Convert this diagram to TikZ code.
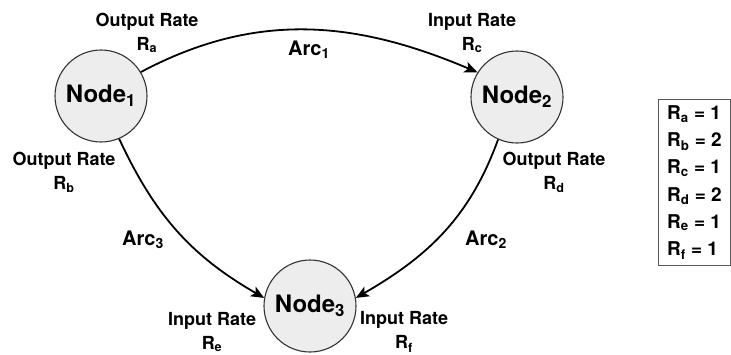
\documentclass[tikz,border=0pt]{standalone}
\usepackage{fontspec}
\setmainfont{TeX Gyre Heros}
\usepackage{xcolor}
\usepackage{tikz}
\usetikzlibrary{arrows.meta}

\begin{document}
\begin{tikzpicture}[
    x=1pt, y=1pt,
    place/.style={circle, draw=black!80, fill=black!7, line width=1.1pt, minimum size=92pt, inner sep=0pt, font=\bfseries\fontsize{24}{26}\selectfont},
    rate/.style={align=center, inner sep=0pt, font=\bfseries\fontsize{18}{24}\selectfont},
    arclabel/.style={inner sep=0pt, font=\bfseries\fontsize{20}{24}\selectfont},
    arc/.style={-{Stealth[length=13pt, width=11pt, inset=3pt]}, line width=1.8pt}
]
\useasboundingbox (0,0) rectangle (731,-354);

% Nodes
\node[place] (node1) at (101,-96) {Node\textsubscript{1}};
\node[place] (node2) at (517,-97) {Node\textsubscript{2}};
\node[place] (node3) at (310,-306) {Node\textsubscript{3}};

% Rates
\node[rate] (ra) at (147,-33) {Output Rate\\R\textsubscript{a}};
\node[rate] (rc) at (472,-33) {Input Rate\\R\textsubscript{c}};
\node[rate] (rb) at (64,-172) {Output Rate\\R\textsubscript{b}};
\node[rate] (rd) at (554,-172) {Output Rate\\R\textsubscript{d}};
\node[rate] (re) at (212,-332) {Input Rate\\R\textsubscript{e}};
\node[rate] (rf) at (404,-332) {Input Rate\\R\textsubscript{f}};

% Arcs
\draw[arc] (node1.31) to[out=28, in=157] (node2.148);
\draw[arc] (node2.-114) to[out=-110, in=30] (node3.10);
\draw[arc] (node1.-67) to[out=-65, in=150] (node3.170);

\node[arclabel] (arc1) at (309,-50) {Arc\textsubscript{1}};
\node[arclabel] (arc2) at (486,-240) {Arc\textsubscript{2}};
\node[arclabel] (arc3) at (143,-240) {Arc\textsubscript{3}};

% Legend
\node[draw=black!65, line width=0.9pt, minimum width=72pt, minimum height=166pt, inner sep=0pt, align=left, anchor=north west,
      font=\bfseries\fontsize{19}{27.2}\selectfont] (legend) at (658,-99) {%
    R\textsubscript{a} = 1\\R\textsubscript{b} = 2\\R\textsubscript{c} = 1\\R\textsubscript{d} = 2\\R\textsubscript{e} = 1\\R\textsubscript{f} = 1};

\end{tikzpicture}
\end{document}
